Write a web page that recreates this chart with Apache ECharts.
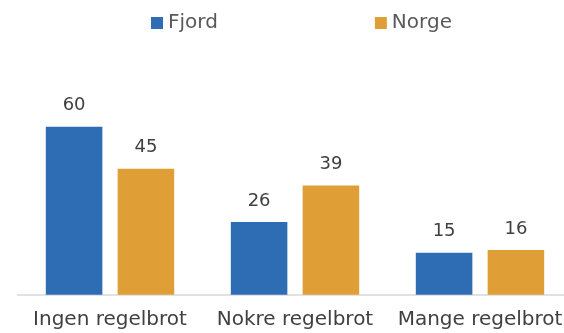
<!DOCTYPE html>
<html>
<head>
<meta charset="utf-8">
<script src="https://cdn.jsdelivr.net/npm/echarts@6/dist/echarts.min.js"></script>
<style>
  html, body { margin: 0; padding: 0; background: #fff; }
  #chart { width: 564px; height: 333px; }
</style>
</head>
<body>
<div id="chart"></div>
<script>
// Share of respondents by number of rule breaches
const categories = ['Ingen regelbrot', 'Nokre regelbrot', 'Mange regelbrot'];
const fjordValues = [60, 26, 15];
const norgeValues = [45, 39, 16];
const seriesNames = ['Fjord', 'Norge'];

const FONT = '"DejaVu Sans", sans-serif';

const chart = echarts.init(document.getElementById('chart'));

function barSeries(name, data, color) {
  return {
    name: name,
    type: 'bar',
    data: data,
    barGap: '27%',
    barCategoryGap: '30.6%',
    itemStyle: { color: color },
    label: {
      show: true,
      position: 'top',
      distance: 12,
      color: '#404040',
      fontSize: 18,
      fontFamily: FONT
    }
  };
}

chart.setOption({
  animation: false,
  legend: {
    data: seriesNames,
    top: 13,
    left: 151,
    padding: 0,
    itemWidth: 12,
    itemHeight: 12,
    itemGap: 157,
    icon: 'rect',
    textStyle: { color: '#595959', fontSize: 20, fontFamily: FONT }
  },
  // the axis runs past the right edge of the canvas
  grid: {
    left: 17.5, right: -8.5, top: 98.7, bottom: 38.3,
    containLabel: false,
    outerBoundsMode: 'none'
  },
  xAxis: {
    type: 'category',
    data: categories,
    axisTick: { show: false },
    axisLine: { lineStyle: { color: '#d9d9d9', width: 1.5 } },
    axisLabel: {
      color: '#404040', fontSize: 20, margin: 15, fontFamily: FONT,
      interval: 0, hideOverlap: false
    }
  },
  yAxis: {
    type: 'value',
    min: 0,
    max: 70,
    show: false
  },
  series: [
    barSeries(seriesNames[0], fjordValues, '#2e6db4'),
    barSeries(seriesNames[1], norgeValues, '#e09f36')
  ]
});
</script>
</body>
</html>
